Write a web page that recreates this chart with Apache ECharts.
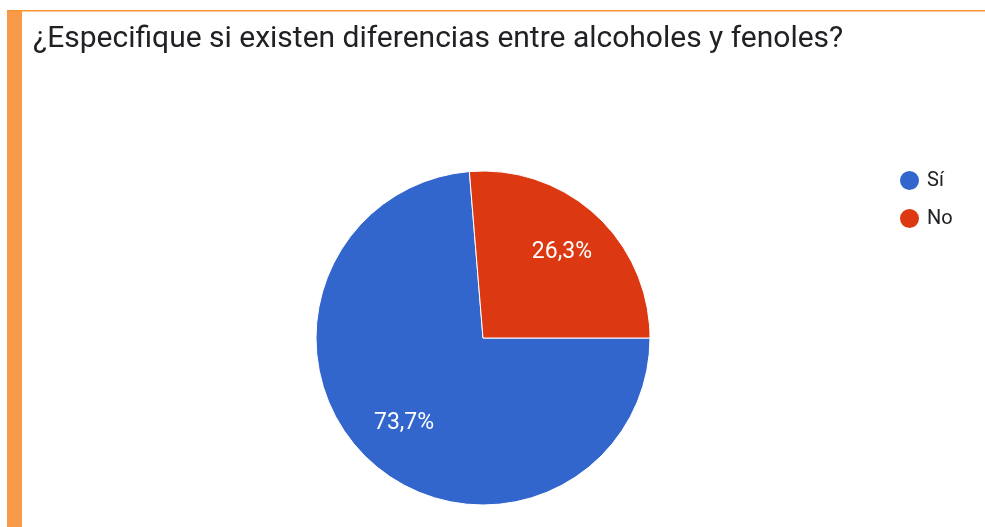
<!DOCTYPE html>
<html>
<head>
<meta charset="utf-8">
<script src="https://cdn.jsdelivr.net/npm/echarts@6/dist/echarts.min.js"></script>
<style>
html,body{margin:0;padding:0;background:#fff;}
#chart{width:985px;height:527px;}
</style>
</head>
<body>
<div id="chart"></div>
<script>
const titleText = '¿Especifique si existen diferencias entre alcoholes y fenoles?';
const categories = ['Sí', 'No'];
const values = [73.7, 26.3];
const colors = ['#3366cc', '#dc3912'];

const chart = echarts.init(document.getElementById('chart'), null, {renderer: 'canvas'});
const data = categories.map((c, i) => ({name: c, value: values[i], itemStyle: {color: colors[i]}}));
const fmt = p => p.value.toFixed(1).replace('.', ',') + '%';

chart.setOption({
  animation: false,
  backgroundColor: '#fff',
  graphic: [
    {type: 'rect', shape: {x: 7, y: 10, width: 15, height: 517}, style: {fill: '#f99a4a'}, silent: true},
    {type: 'rect', shape: {x: 7, y: 10, width: 978, height: 1.5}, style: {fill: '#f7922f'}, silent: true}
  ],
  title: {
    text: titleText,
    left: 28,
    top: 19,
    textStyle: {fontFamily: 'Roboto', fontSize: 30, fontWeight: 'normal', color: '#202124'}
  },
  legend: {
    orient: 'vertical',
    left: 893,
    top: 164,
    itemWidth: 21,
    itemHeight: 21,
    itemGap: 15,
    icon: 'circle',
    data: categories,
    textStyle: {fontFamily: 'Roboto', fontSize: 20, color: '#202124', padding: [0, 0, 0, 2]}
  },
  series: [
    {
      type: 'pie',
      center: [483, 338],
      radius: [0, 167],
      startAngle: 0,
      clockwise: true,
      label: {show: false},
      labelLine: {show: false},
      itemStyle: {borderColor: '#fff', borderWidth: 1},
      data: data
    },
    {
      type: 'pie',
      center: [483, 338],
      radius: [60, 167],
      startAngle: 0,
      clockwise: true,
      silent: true,
      legendHoverLink: false,
      itemStyle: {color: 'rgba(0,0,0,0)'},
      label: {
        show: true,
        position: 'inside',
        formatter: fmt,
        fontFamily: 'Roboto',
        fontSize: 23,
        color: '#fff'
      },
      labelLine: {show: false},
      data: categories.map((c, i) => ({name: c, value: values[i], itemStyle: {color: 'rgba(0,0,0,0)'}}))
    }
  ]
});
</script>
</body>
</html>
